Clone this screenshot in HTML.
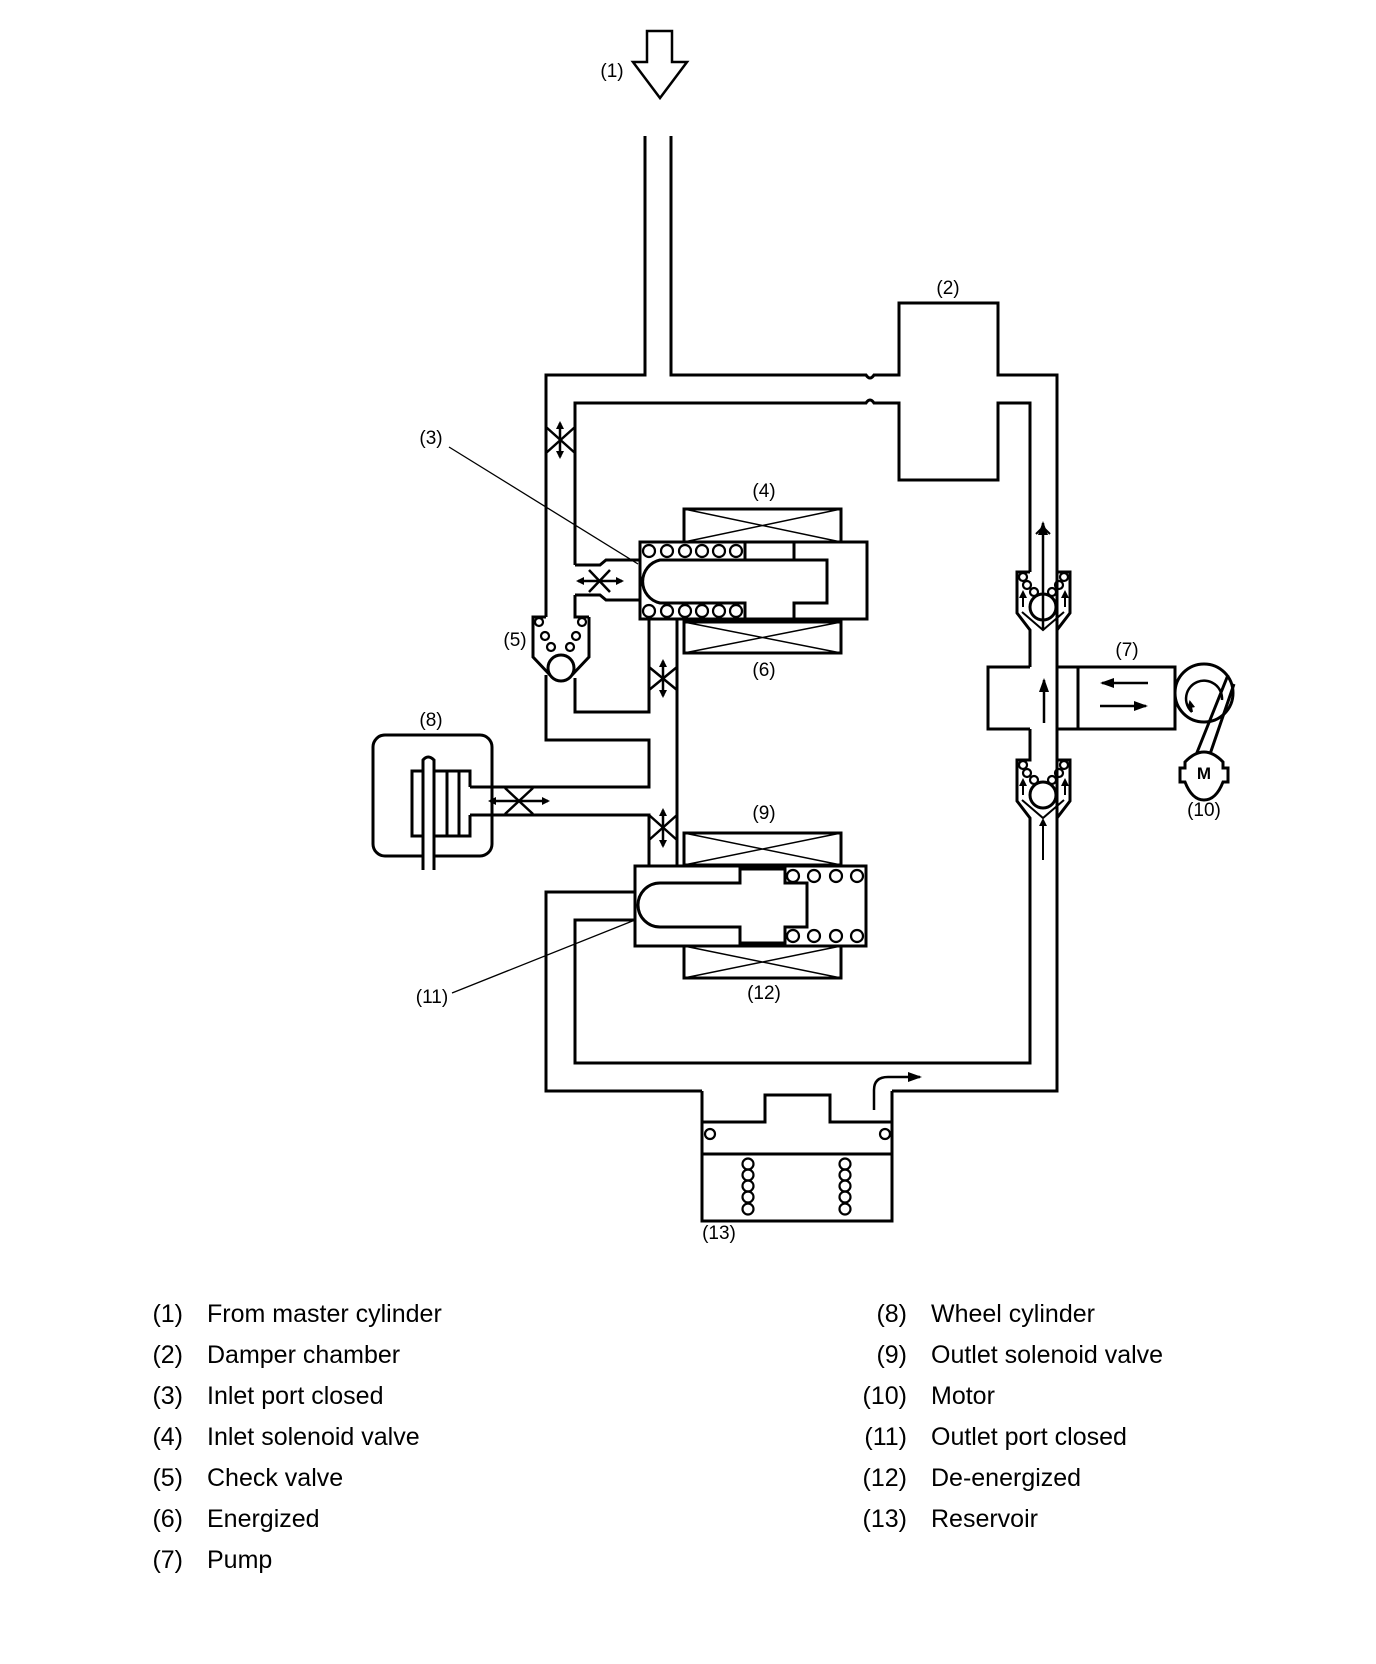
<!DOCTYPE html>
<html><head><meta charset="utf-8"><style>
html,body{margin:0;padding:0;background:#fff;}
svg{display:block;}
text{font-family:"Liberation Sans",Arial,sans-serif;fill:#000;}
.l{font-size:19px;}
.g{font-size:25px;}
</style></head><body>
<svg width="1376" height="1664" viewBox="0 0 1376 1664" xmlns="http://www.w3.org/2000/svg">
<defs>
<marker id="ah" markerWidth="8" markerHeight="8" refX="6" refY="4" orient="auto" markerUnits="userSpaceOnUse"><path d="M0,0 L8,4 L0,8 Z" fill="#000"/></marker>
<marker id="ah2" markerWidth="14" markerHeight="10" refX="12" refY="5" orient="auto" markerUnits="userSpaceOnUse"><path d="M0,0 L14,5 L0,10 Z" fill="#000"/></marker>
</defs>
<g fill="none" stroke="#000" stroke-width="3" stroke-linejoin="miter">
<path d="M647,31 H672 V62 H687 L660,98 L633,62 H647 Z" stroke-width="2.5"/>
<path d="M645,136 V375 H546 V617"/>
<path d="M671,136 V375 H866 Q870,381 874,375 H899 V303 H998 V375 H1057 V1091 H892"/>
<path d="M575,565 V403 H866 Q870,397 874,403 H899 V480 H998 V403 H1030 V572"/>
<path d="M575,565 H600 L606,560 H640"/>
<path d="M575,595 V617 H589"/>
<path d="M575,595 H600 L606,600 H640"/>
<path d="M546,617 H533 V657 L550,675"/>
<path d="M589,617 V657 L572,675"/>
<circle cx="561" cy="668" r="13"/>
<path d="M546,675 V740 H649 V787 H470"/>
<path d="M575,678 V712 H649 V619"/>
<path d="M677,619 V866"/>
<path d="M470,815 H649 V866"/>
<rect x="373" y="735" width="119" height="121" rx="12"/>
<path d="M470,787 V771 H412 V836 H470 V815"/>
<line x1="447" y1="771" x2="447" y2="836"/>
<line x1="459" y1="771" x2="459" y2="836"/>
<path d="M423,870 V760 Q428,754 434,760 V870" fill="#fff"/>
<rect x="684" y="509" width="157" height="33"/>
<path d="M684,509 L841,542 M841,509 L684,542" stroke-width="1.5"/>
<rect x="684" y="622" width="157" height="31"/>
<path d="M684,622 L841,653 M841,622 L684,653" stroke-width="1.5"/>
<rect x="640" y="542" width="227" height="77" fill="#fff"/>
<path d="M745,542 V560 H660 A22,22 0 0 0 660,603 H745 V619"/>
<path d="M745,560 H794 V542 M794,560 H827 V603 H794 V619"/>
<rect x="684" y="833" width="157" height="32"/>
<path d="M684,833 L841,865 M841,833 L684,865" stroke-width="1.5"/>
<rect x="684" y="946" width="157" height="32"/>
<path d="M684,946 L841,978 M841,946 L684,978" stroke-width="1.5"/>
<rect x="635" y="866" width="231" height="80" fill="#fff"/>
<path d="M740,866 V883 H660 A22,22 0 0 0 660,927 H740 V946"/>
<path d="M740,869 H785 V883 H807 V927 H785 V943 H740"/>
<path d="M635,892 H546 V1091 H702"/>
<path d="M635,920 H575 V1063 H1030 V825"/>
<path d="M702,1091 V1221 H892 V1091"/>
<path d="M702,1122 H765 V1095 H830 V1122 H892"/>
<line x1="702" y1="1154" x2="892" y2="1154"/>
<path d="M1030,572 H1017 V613 L1030,630 V667"/>
<path d="M1057,572 H1070 V613 L1057,630 V667"/>
<path d="M1022,612 L1043,630 L1064,612" stroke-width="2"/>
<circle cx="1043" cy="607" r="13"/>
<path d="M1030,729 V760 H1017 V801 L1030,818 V1063"/>
<path d="M1057,729 V760 H1070 V801 L1057,818 V1091"/>
<path d="M1022,800 L1043,818 L1064,800" stroke-width="2"/>
<circle cx="1043" cy="795" r="13"/>
<path d="M1030,667 H988 V729 H1030 M1057,667 H1078 V729 H1057"/>
<rect x="1078" y="667" width="97" height="62"/>
<circle cx="1204" cy="693" r="29"/>
<path d="M1228,675 L1194,760 M1234,684 L1208,760"/>
<path d="M1185,762 Q1204,742 1223,762 V768 L1228,768 V782 L1223,782 Q1216,800 1204,800 Q1192,800 1185,782 L1180,782 V768 L1185,768 Z" fill="#fff"/>
<path d="M1192,712 A18,18 0 1 1 1222,700" stroke-width="2.5"/>
</g>
<g fill="none" stroke="#000" stroke-width="2.2">
<circle cx="649" cy="551" r="6"/><circle cx="667" cy="551" r="6"/><circle cx="685" cy="551" r="6"/><circle cx="702" cy="551" r="6"/><circle cx="719" cy="551" r="6"/><circle cx="736" cy="551" r="6"/>
<circle cx="649" cy="611" r="6"/><circle cx="667" cy="611" r="6"/><circle cx="685" cy="611" r="6"/><circle cx="702" cy="611" r="6"/><circle cx="719" cy="611" r="6"/><circle cx="736" cy="611" r="6"/>
<circle cx="793" cy="876" r="6"/><circle cx="814" cy="876" r="6"/><circle cx="836" cy="876" r="6"/><circle cx="857" cy="876" r="6"/>
<circle cx="793" cy="936" r="6"/><circle cx="814" cy="936" r="6"/><circle cx="836" cy="936" r="6"/><circle cx="857" cy="936" r="6"/>
<circle cx="539" cy="622" r="4"/><circle cx="582" cy="622" r="4"/><circle cx="545" cy="636" r="4"/><circle cx="576" cy="636" r="4"/><circle cx="551" cy="647" r="4"/><circle cx="570" cy="647" r="4"/>
<circle cx="1023" cy="577" r="4"/><circle cx="1027" cy="585" r="4"/><circle cx="1034" cy="592" r="4"/><circle cx="1064" cy="577" r="4"/><circle cx="1059" cy="585" r="4"/><circle cx="1052" cy="592" r="4"/>
<circle cx="1023" cy="765" r="4"/><circle cx="1027" cy="773" r="4"/><circle cx="1034" cy="780" r="4"/><circle cx="1064" cy="765" r="4"/><circle cx="1059" cy="773" r="4"/><circle cx="1052" cy="780" r="4"/>
<circle cx="710" cy="1134" r="5"/><circle cx="885" cy="1134" r="5"/>
<circle cx="748" cy="1164" r="5.5"/><circle cx="748" cy="1175" r="5.5"/><circle cx="748" cy="1186" r="5.5"/><circle cx="748" cy="1197" r="5.5"/><circle cx="748" cy="1209" r="5.5"/>
<circle cx="845" cy="1164" r="5.5"/><circle cx="845" cy="1175" r="5.5"/><circle cx="845" cy="1186" r="5.5"/><circle cx="845" cy="1197" r="5.5"/><circle cx="845" cy="1209" r="5.5"/>
</g>
<g stroke="#000" stroke-width="2.5" fill="none">
<path d="M546,427 L575,453 M575,427 L546,453"/>
<path d="M560,440 V457" marker-end="url(#ah)"/>
<path d="M560,440 V423" marker-end="url(#ah)"/>
<path d="M649,667 L677,690 M677,667 L649,690"/>
<path d="M663,678 V661" marker-end="url(#ah)"/><path d="M663,678 V696" marker-end="url(#ah)"/>
<path d="M649,815 L677,840 M677,815 L649,840"/>
<path d="M663,828 V810" marker-end="url(#ah)"/><path d="M663,828 V846" marker-end="url(#ah)"/>
<path d="M589,570 L610,592 M610,570 L589,592"/>
<path d="M600,581 H578" marker-end="url(#ah)"/><path d="M600,581 H622" marker-end="url(#ah)"/>
<path d="M505,788 L533,814 M533,788 L505,814"/>
<path d="M519,801 H490" marker-end="url(#ah)"/><path d="M519,801 H548" marker-end="url(#ah)"/>
<path d="M1043,630 V523" marker-end="url(#ah2)"/>
<path d="M1036,534 L1043,527 L1050,534" stroke-width="2"/>
<path d="M1044,723 V680" marker-end="url(#ah2)"/>
<path d="M1148,683 H1102" marker-end="url(#ah2)"/>
<path d="M1100,706 H1146" marker-end="url(#ah2)"/>
<path d="M1023,607 V592" marker-end="url(#ah)" stroke-width="2"/>
<path d="M1065,607 V592" marker-end="url(#ah)" stroke-width="2"/>
<path d="M1023,795 V780" marker-end="url(#ah)" stroke-width="2"/>
<path d="M1065,795 V780" marker-end="url(#ah)" stroke-width="2"/>
<path d="M1043,860 V820" marker-end="url(#ah)" stroke-width="2"/>
<path d="M874,1110 V1090 Q874,1077 888,1077 H920" marker-end="url(#ah2)"/>
<path d="M1192,712 L1190,702" marker-end="url(#ah)" stroke-width="2"/>
</g>
<g stroke="#000" stroke-width="1.3">
<line x1="449" y1="447" x2="638" y2="564"/>
<line x1="452" y1="993" x2="635" y2="920"/>
</g>
<g class="l">
<text x="612" y="77" text-anchor="middle">(1)</text>
<text x="948" y="294" text-anchor="middle">(2)</text>
<text x="431" y="444" text-anchor="middle">(3)</text>
<text x="764" y="497" text-anchor="middle">(4)</text>
<text x="515" y="646" text-anchor="middle">(5)</text>
<text x="764" y="676" text-anchor="middle">(6)</text>
<text x="1127" y="656" text-anchor="middle">(7)</text>
<text x="431" y="726" text-anchor="middle">(8)</text>
<text x="764" y="819" text-anchor="middle">(9)</text>
<text x="1204" y="816" text-anchor="middle">(10)</text>
<text x="432" y="1003" text-anchor="middle">(11)</text>
<text x="764" y="999" text-anchor="middle">(12)</text>
<text x="719" y="1239" text-anchor="middle">(13)</text>
<text x="1204" y="779" text-anchor="middle" font-weight="bold" font-size="17">M</text>
</g>
<g class="g">
<text x="183" y="1322" text-anchor="end">(1)</text><text x="207" y="1322">From master cylinder</text>
<text x="183" y="1363" text-anchor="end">(2)</text><text x="207" y="1363">Damper chamber</text>
<text x="183" y="1404" text-anchor="end">(3)</text><text x="207" y="1404">Inlet port closed</text>
<text x="183" y="1445" text-anchor="end">(4)</text><text x="207" y="1445">Inlet solenoid valve</text>
<text x="183" y="1486" text-anchor="end">(5)</text><text x="207" y="1486">Check valve</text>
<text x="183" y="1527" text-anchor="end">(6)</text><text x="207" y="1527">Energized</text>
<text x="183" y="1568" text-anchor="end">(7)</text><text x="207" y="1568">Pump</text>
<text x="907" y="1322" text-anchor="end">(8)</text><text x="931" y="1322">Wheel cylinder</text>
<text x="907" y="1363" text-anchor="end">(9)</text><text x="931" y="1363">Outlet solenoid valve</text>
<text x="907" y="1404" text-anchor="end">(10)</text><text x="931" y="1404">Motor</text>
<text x="907" y="1445" text-anchor="end">(11)</text><text x="931" y="1445">Outlet port closed</text>
<text x="907" y="1486" text-anchor="end">(12)</text><text x="931" y="1486">De-energized</text>
<text x="907" y="1527" text-anchor="end">(13)</text><text x="931" y="1527">Reservoir</text>
</g>
</svg>
</body></html>
